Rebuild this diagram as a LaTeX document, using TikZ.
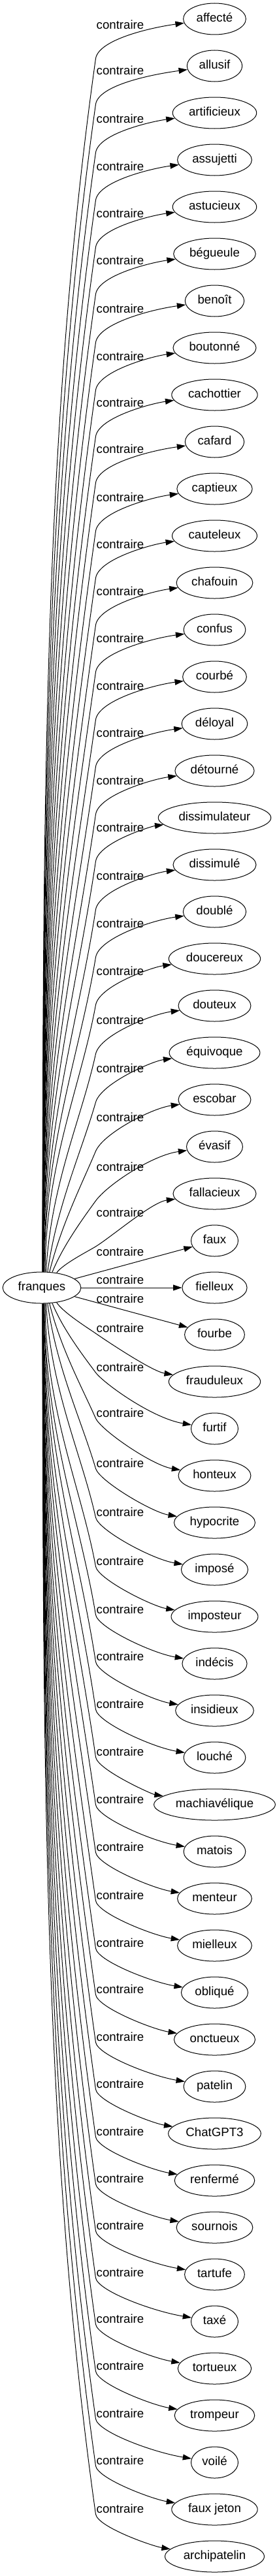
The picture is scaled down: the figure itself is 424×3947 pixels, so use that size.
\documentclass[tikz,border=0pt]{standalone}
\usepackage{fontspec}
\setmainfont{Liberation Sans}
\usepackage{tikz}
\usetikzlibrary{arrows.meta,shapes.geometric,calc}

\begin{document}
\begin{tikzpicture}[
			x=0.75pt,
			y=-0.75pt,
			% Word nodes
			sourceWord/.style={
				ellipse,
				draw=black,
				line width=0.75pt,
				inner xsep=4.5pt,
				inner ysep=2pt,
				minimum width=54pt,
				minimum height=36pt,
				text height=10pt,
				text depth=3pt,
				font=\fontsize{14}{16}\selectfont
			},
			targetWord/.style={
				sourceWord
			},
			% Relation labels and arrows
			relLabel/.style={
				inner sep=0pt,
				text height=10pt,
				text depth=0pt,
				font=\fontsize{14}{16}\selectfont
			},
			relation/.style={
				draw=black,
				line width=0.75pt,
				-{Triangle[length=10pt,width=6.7pt]}
			}
			]
			
			\useasboundingbox (0,0) rectangle (424,3947);
			
			% Source word
			\node[sourceWord] (fr) at (64,1973) {franques};
			
			% Opposite words
			\node[targetWord] (affecte)       at (328.5,29)   {affecté};
			\node[targetWord] (allusif)       at (328.5,101)  {allusif};
			\node[targetWord] (artificieux)   at (328.5,173)  {artificieux};
			\node[targetWord] (assujetti)     at (328.5,245)  {assujetti};
			\node[targetWord] (astucieux)     at (328.5,317)  {astucieux};
			\node[targetWord] (begueule)      at (328.5,389)  {bégueule};
			\node[targetWord] (benoit)        at (328.5,461)  {benoît};
			\node[targetWord] (boutonne)      at (328.5,533)  {boutonné};
			\node[targetWord] (cachottier)    at (328.5,605)  {cachottier};
			\node[targetWord] (cafard)        at (328.5,677)  {cafard};
			\node[targetWord] (captieux)      at (328.5,749)  {captieux};
			\node[targetWord] (cauteleux)     at (328.5,821)  {cauteleux};
			\node[targetWord] (chafouin)      at (328.5,893)  {chafouin};
			\node[targetWord] (confus)        at (328.5,965)  {confus};
			\node[targetWord] (courbe)        at (328.5,1037) {courbé};
			\node[targetWord] (deloyal)       at (328.5,1109) {déloyal};
			\node[targetWord] (detourne)      at (328.5,1181) {détourné};
			\node[targetWord] (dissimulateur) at (328.5,1253) {dissimulateur};
			\node[targetWord] (dissimule)     at (328.5,1325) {dissimulé};
			\node[targetWord] (double)        at (328.5,1397) {doublé};
			\node[targetWord] (doucereux)     at (328.5,1469) {doucereux};
			\node[targetWord] (douteux)       at (328.5,1541) {douteux};
			\node[targetWord] (equivoque)     at (328.5,1613) {équivoque};
			\node[targetWord] (escobar)       at (328.5,1685) {escobar};
			\node[targetWord] (evasif)        at (328.5,1757) {évasif};
			\node[targetWord] (fallacieux)    at (328.5,1829) {fallacieux};
			\node[targetWord] (faux)          at (328.5,1901) {faux};
			\node[targetWord] (fielleux)      at (328.5,1973) {fielleux};
			\node[targetWord] (fourbe)        at (328.5,2045) {fourbe};
			\node[targetWord] (frauduleux)    at (328.5,2117) {frauduleux};
			\node[targetWord] (furtif)        at (328.5,2189) {furtif};
			\node[targetWord] (honteux)       at (328.5,2261) {honteux};
			\node[targetWord] (hypocrite)     at (328.5,2333) {hypocrite};
			\node[targetWord] (impose)        at (328.5,2405) {imposé};
			\node[targetWord] (imposteur)     at (328.5,2477) {imposteur};
			\node[targetWord] (indecis)       at (328.5,2549) {indécis};
			\node[targetWord] (insidieux)     at (328.5,2621) {insidieux};
			\node[targetWord] (louche)        at (328.5,2693) {louché};
			\node[targetWord] (machiavelique) at (328.5,2765) {machiavélique};
			\node[targetWord] (matois)        at (328.5,2837) {matois};
			\node[targetWord] (menteur)       at (328.5,2909) {menteur};
			\node[targetWord] (mielleux)      at (328.5,2981) {mielleux};
			\node[targetWord] (oblique)       at (328.5,3053) {obliqué};
			\node[targetWord] (onctueux)      at (328.5,3125) {onctueux};
			\node[targetWord] (patelin)       at (328.5,3197) {patelin};
			\node[targetWord] (chatgpt)       at (328.5,3269) {ChatGPT3};
			\node[targetWord] (renferme)      at (328.5,3341) {renfermé};
			\node[targetWord] (sournois)      at (328.5,3413) {sournois};
			\node[targetWord] (tartufe)       at (328.5,3485) {tartufe};
			\node[targetWord] (taxe)          at (328.5,3557) {taxé};
			\node[targetWord] (tortueux)      at (328.5,3629) {tortueux};
			\node[targetWord] (trompeur)      at (328.5,3701) {trompeur};
			\node[targetWord] (voile)         at (328.5,3773) {voilé};
			\node[targetWord] (fauxjeton)     at (328.5,3845) {faux jeton};
			\node[targetWord] (archipatelin)  at (328.5,3917) {archipatelin};
			
			% Relations going up (innermost first)
			\foreach \tname/\ly [count=\m] in {
				fallacieux/1858, evasif/1788, escobar/1712, equivoque/1637,
				douteux/1563, doucereux/1488, double/1415, dissimule/1342,
				dissimulateur/1268, detourne/1196, deloyal/1123, courbe/1051,
				confus/978, chafouin/906, cauteleux/834, captieux/762,
				cafard/688, cachottier/617, boutonne/546, benoit/473,
				begueule/399, astucieux/327, assujetti/255, artificieux/182,
				allusif/108, affecte/38}{
				\pgfmathsetmacro{\dy}{1949-(\ly+52)}
				\pgfmathtruncatemacro{\as}{88-43*exp(-(\m-1)/3.3)}
				\pgfmathsetmacro{\ts}{min(90,\as+12)}
				\pgfmathsetmacro{\tb}{82-50*exp(-(\dy-39)/120)}
				\node[relLabel] (l\tname) at (184,\ly) {contraire};
				\draw[relation] (fr.\as)
				.. controls +({0.4*\dy*cos(\ts)},{-0.4*\dy*sin(\ts)})
				and +({-0.3*\dy*cos(\tb)},{0.3*\dy*sin(\tb)})
				.. ($(l\tname.west)+(-1,52)$)
				.. controls +({30*cos(\tb)},{-30*sin(\tb)}) and +(-96,13)
				.. (\tname);
			}
			
			% Relations drawn straight
			\node[relLabel] (lfaux) at (184,1918) {contraire};
			\draw[relation] (fr) -- (faux);
			
			\node[relLabel] (lfielleux) at (184,1961) {contraire};
			\draw[relation] (fr) -- (fielleux);
			
			\node[relLabel] (lfourbe) at (184,1990) {contraire};
			\draw[relation] (fr) -- (fourbe);
			
			% Relations going down (innermost first)
			\foreach \tname/\ly [count=\m] in {
				frauduleux/2035, furtif/2095, honteux/2165, hypocrite/2242,
				impose/2317, imposteur/2392, indecis/2466, insidieux/2538,
				louche/2611, machiavelique/2684, matois/2757, menteur/2830,
				mielleux/2904, oblique/2977, onctueux/3048, patelin/3121,
				chatgpt/3193, renferme/3266, sournois/3338, tartufe/3410,
				taxe/3482, tortueux/3553, trompeur/3625, voile/3698,
				fauxjeton/3770, archipatelin/3844}{
				\pgfmathsetmacro{\dy}{(\ly+8)-1997}
				\pgfmathtruncatemacro{\as}{88-43*exp(-(\m-1)/3.3)}
				\pgfmathsetmacro{\ts}{min(90,\as+12)}
				\pgfmathsetmacro{\tb}{82-50*exp(-(\dy-39)/120)}
				\node[relLabel] (l\tname) at (184,\ly) {contraire};
				\draw[relation] (fr.-\as)
				.. controls +({0.4*\dy*cos(\ts)},{0.4*\dy*sin(\ts)})
				and +({-0.3*\dy*cos(\tb)},{-0.3*\dy*sin(\tb)})
				.. ($(l\tname.west)+(-1,8)$)
				.. controls +({20*cos(\tb)},{20*sin(\tb)}) and +(-96,-16)
				.. (\tname);
			}
			
		\end{tikzpicture}
\end{document}
